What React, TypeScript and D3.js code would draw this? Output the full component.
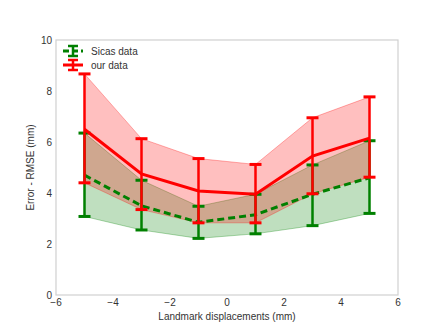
import React, { useRef, useEffect } from 'react';
import * as d3 from 'd3';

const displacements = [-5, -3, -1, 1, 3, 5];

const sicasMean = [4.7, 3.5, 2.85, 3.15, 3.95, 4.6];
const sicasUpper = [6.35, 4.5, 3.48, 3.95, 5.1, 6.05];
const sicasLower = [3.08, 2.55, 2.22, 2.4, 2.72, 3.2];

const oursMean = [6.5, 4.75, 4.08, 3.95, 5.45, 6.15];
const oursUpper = [8.67, 6.13, 5.35, 5.12, 6.95, 7.77];
const oursLower = [4.4, 3.35, 2.83, 2.83, 3.97, 4.62];

const xTicks = [-6, -4, -2, 0, 2, 4, 6];
const yTicks = [0, 2, 4, 6, 8, 10];

const App = () => {
  const svgRef = useRef<SVGSVGElement>(null);

  useEffect(() => {
    const svg = d3.select(svgRef.current);
    svg.selectAll("*").remove();

    const width = 443;
    const height = 332;
    const margin = { top: 40, right: 45, bottom: 37, left: 56 };
    const font = "'Liberation Sans', Arial, sans-serif";

    const x = d3.scaleLinear()
      .domain([-6, 6])
      .range([margin.left, width - margin.right]);

    const y = d3.scaleLinear()
      .domain([0, 10])
      .range([height - margin.bottom, margin.top]);

    const series = [
      { name: "Sicas data", color: "green", fill: "rgba(0,128,0,0.25)", edge: "rgba(0,128,0,0.3)", mean: sicasMean, upper: sicasUpper, lower: sicasLower, dash: "7,4" },
      { name: "our data", color: "red", fill: "rgba(255,0,0,0.25)", edge: "rgba(255,0,0,0.3)", mean: oursMean, upper: oursUpper, lower: oursLower, dash: null },
    ];

    // frame
    svg.append("rect")
      .attr("x", margin.left)
      .attr("y", margin.top)
      .attr("width", width - margin.left - margin.right)
      .attr("height", height - margin.top - margin.bottom)
      .attr("fill", "white")
      .attr("stroke", "#d0d0d0")
      .attr("stroke-width", 1.2);

    // shaded bands
    series.forEach(s => {
      const area = d3.area<number>()
        .x((d, i) => x(displacements[i]))
        .y0((d, i) => y(s.lower[i]))
        .y1((d, i) => y(s.upper[i]));
      svg.append("path")
        .attr("d", area(s.mean))
        .attr("fill", s.fill)
        .attr("stroke", s.edge)
        .attr("stroke-width", 1);
    });

    const line = (vals: number[]) => d3.line<number>()
      .x((d, i) => x(displacements[i]))
      .y(d => y(d))(vals);

    const capW = 6;
    series.forEach(s => {
      const g = svg.append("g");
      displacements.forEach((dx, i) => {
        const cx = x(dx);
        g.append("line")
          .attr("x1", cx).attr("x2", cx)
          .attr("y1", y(s.lower[i])).attr("y2", y(s.upper[i]))
          .attr("stroke", s.color).attr("stroke-width", 2.5);
        [s.lower[i], s.upper[i]].forEach(v => {
          g.append("line")
            .attr("x1", cx - capW).attr("x2", cx + capW)
            .attr("y1", y(v)).attr("y2", y(v))
            .attr("stroke", s.color).attr("stroke-width", 3);
        });
      });
      g.append("path")
        .attr("d", line(s.mean))
        .attr("fill", "none")
        .attr("stroke", s.color)
        .attr("stroke-width", 3)
        .attr("stroke-dasharray", s.dash);
    });

    // tick labels
    svg.append("g")
      .selectAll("text")
      .data(xTicks)
      .enter().append("text")
      .attr("x", d => x(d))
      .attr("y", height - margin.bottom + 11)
      .attr("text-anchor", "middle")
      .attr("font-family", font)
      .attr("font-size", 10)
      .attr("fill", "#333")
      .text(d => d3.format("")(d).replace("-", "\u2212"));

    svg.append("g")
      .selectAll("text")
      .data(yTicks)
      .enter().append("text")
      .attr("x", margin.left - 4)
      .attr("y", d => y(d) + 3.5)
      .attr("text-anchor", "end")
      .attr("font-family", font)
      .attr("font-size", 10)
      .attr("fill", "#333")
      .text(d => d);

    svg.append("text")
      .attr("x", (margin.left + width - margin.right) / 2)
      .attr("y", height - margin.bottom + 25)
      .attr("text-anchor", "middle")
      .attr("font-family", font)
      .attr("font-size", 10)
      .attr("fill", "#333")
      .text("Landmark displacements (mm)");

    svg.append("text")
      .attr("transform", `translate(34,${(margin.top + height - margin.bottom) / 2}) rotate(-90)`)
      .attr("text-anchor", "middle")
      .attr("font-family", font)
      .attr("font-size", 10)
      .attr("fill", "#333")
      .text("Error - RMSE (mm)");

    // legend
    series.forEach((s, i) => {
      const ly = 51 + i * 14;
      const lx = 73;
      const row = svg.append("g");
      row.append("line")
        .attr("x1", lx - 10).attr("x2", lx + 10)
        .attr("y1", ly).attr("y2", ly)
        .attr("stroke", s.color).attr("stroke-width", 3)
        .attr("stroke-dasharray", s.dash ? "6,3" : null);
      row.append("line")
        .attr("x1", lx).attr("x2", lx)
        .attr("y1", ly - 5).attr("y2", ly + 5)
        .attr("stroke", s.color).attr("stroke-width", 2.5);
      [ly - 5, ly + 5].forEach(cy => {
        row.append("line")
          .attr("x1", lx - 5).attr("x2", lx + 5)
          .attr("y1", cy).attr("y2", cy)
          .attr("stroke", s.color).attr("stroke-width", 2.5);
      });
      row.append("text")
        .attr("x", lx + 18)
        .attr("y", ly + 3.5)
        .attr("font-family", font)
        .attr("font-size", 10)
        .attr("fill", "#333")
        .text(s.name);
    });
  }, []);

  return (
    <svg ref={svgRef} width={443} height={332}
      style={{ position: 'absolute', left: 0, top: 0, background: 'white' }} />
  );
};

export default App;
